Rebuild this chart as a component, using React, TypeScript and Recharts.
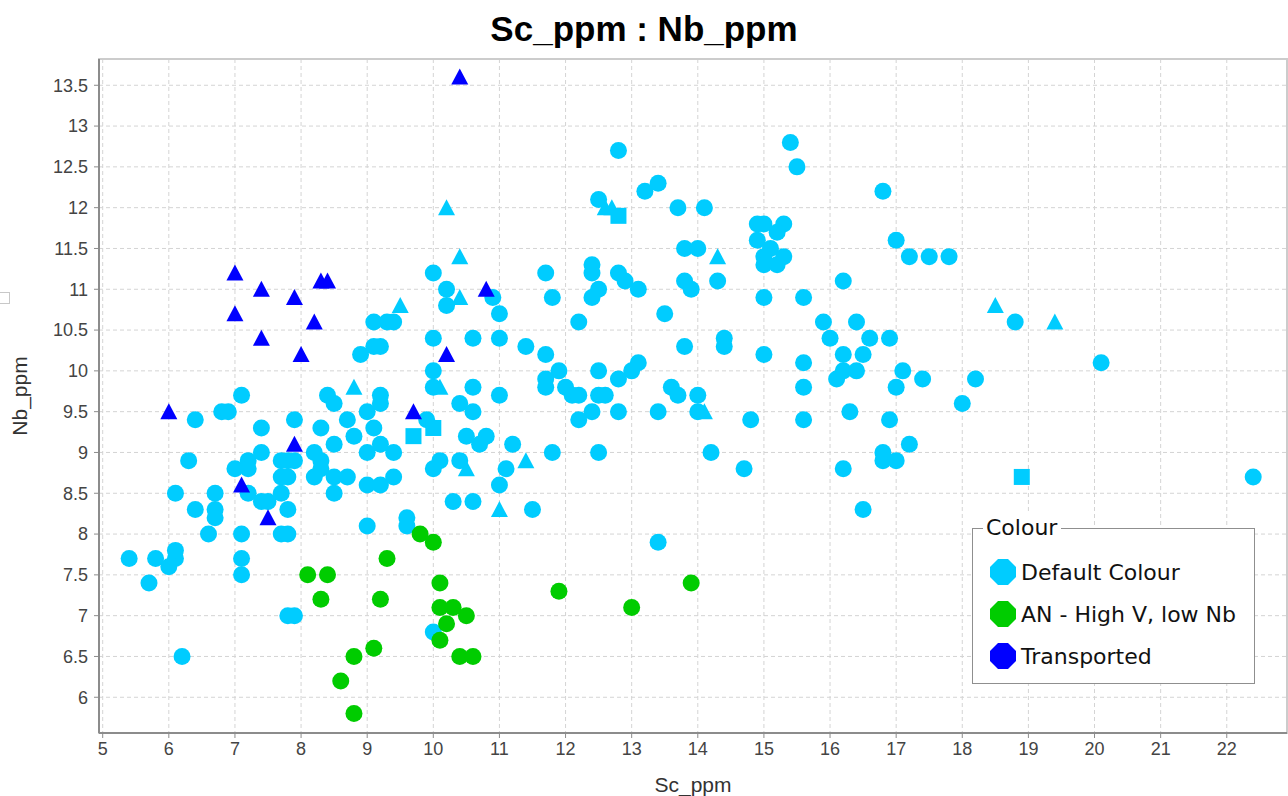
import React from 'react'
import { ScatterChart, Scatter, XAxis, YAxis, CartesianGrid, ReferenceArea } from 'recharts'

// Sc_ppm / Nb_ppm pairs, grouped by colour class and marker shape
const defaultCircles: [number, number][] = [
  [5.4, 7.7], [5.7, 7.4], [5.8, 7.7], [6.0, 7.6], [6.1, 7.7], [6.1, 7.8], [6.2, 6.5], [6.1, 8.5],
  [6.3, 8.9], [6.4, 8.3], [6.4, 9.4], [6.6, 8.0], [6.7, 8.5], [6.7, 8.3], [6.7, 8.2], [6.8, 9.5],
  [6.9, 9.5], [7.0, 8.8], [7.1, 9.7], [7.1, 8.0], [7.1, 7.7], [7.1, 7.5], [7.2, 8.9], [7.2, 8.8],
  [7.2, 8.5], [7.4, 9.3], [7.4, 9.0], [7.4, 8.4], [7.5, 8.4], [7.7, 8.9], [7.8, 8.9], [7.9, 8.9],
  [7.9, 9.4], [7.7, 8.7], [7.8, 8.7], [7.7, 8.5], [7.8, 8.3], [7.7, 8.0], [7.8, 8.0], [7.8, 7.0],
  [7.9, 7.0], [8.2, 9.0], [8.3, 8.9], [8.3, 8.8], [8.2, 8.7], [8.3, 9.3], [8.4, 9.7], [8.5, 9.6],
  [8.5, 9.1], [8.5, 8.7], [8.7, 8.7], [8.5, 8.5], [8.7, 9.4], [8.8, 9.2], [8.9, 10.2], [9.0, 9.5],
  [9.0, 9.0], [9.0, 8.6], [9.0, 8.1], [9.1, 9.3], [9.1, 10.6], [9.3, 10.6], [9.4, 10.6], [9.1, 10.3],
  [9.2, 10.3], [9.2, 9.7], [9.2, 9.6], [9.2, 9.1], [9.2, 8.6], [9.4, 9.0], [9.4, 8.7], [9.6, 8.2],
  [9.6, 8.1], [9.9, 9.4],
  [10.0, 11.2], [10.2, 11.0], [10.2, 10.8], [10.9, 10.9], [11.0, 10.7], [10.0, 10.4], [10.6, 10.4],
  [11.0, 10.4], [11.4, 10.3], [11.7, 10.2], [10.0, 10.0], [10.0, 9.8], [10.6, 9.8], [11.0, 9.7],
  [10.4, 9.6], [10.6, 9.5], [10.5, 9.2], [10.8, 9.2], [10.7, 9.1], [11.2, 9.1], [10.0, 8.8],
  [10.1, 8.9], [10.4, 8.9], [11.1, 8.8], [11.0, 8.6], [11.8, 9.0], [12.5, 9.0], [10.3, 8.4],
  [10.6, 8.4], [11.5, 8.3], [10.0, 6.8], [13.4, 7.9],
  [12.8, 12.7], [13.2, 12.2], [13.4, 12.3], [12.5, 12.1], [13.7, 12.0], [11.7, 11.2], [11.8, 10.9],
  [12.2, 10.6], [12.4, 11.3], [12.4, 11.2], [12.5, 11.0], [12.4, 10.9], [12.8, 11.2], [12.9, 11.1],
  [13.1, 11.0], [13.5, 10.7], [13.1, 10.1], [11.9, 10.0], [11.7, 9.9], [11.7, 9.8], [12.0, 9.8],
  [12.1, 9.7], [12.2, 9.7], [12.5, 10.0], [12.8, 9.9], [13.0, 10.0], [12.5, 9.7], [12.6, 9.7],
  [12.4, 9.5], [12.2, 9.4], [12.8, 9.5], [13.4, 9.5], [13.6, 9.8], [13.7, 9.7],
  [15.4, 12.8], [15.5, 12.5], [16.8, 12.2], [14.1, 12.0], [14.9, 11.8], [15.0, 11.8], [15.3, 11.8],
  [15.2, 11.7], [14.9, 11.6], [15.1, 11.5], [15.0, 11.4], [15.3, 11.4], [15.0, 11.3], [15.2, 11.3],
  [13.8, 11.5], [14.0, 11.5], [13.8, 11.1], [13.9, 11.0], [14.3, 11.1], [17.0, 11.6], [17.2, 11.4],
  [17.5, 11.4], [17.8, 11.4], [16.2, 11.1], [15.0, 10.9], [15.6, 10.9], [13.8, 10.3], [14.4, 10.4],
  [14.4, 10.3], [15.0, 10.2], [15.6, 10.1], [15.6, 9.8], [15.9, 10.6], [16.0, 10.4], [16.4, 10.6],
  [16.6, 10.4], [16.9, 10.4], [16.2, 10.2], [16.5, 10.2], [16.1, 9.9], [16.2, 10.0], [16.4, 10.0],
  [17.1, 10.0], [17.4, 9.9], [17.0, 9.8], [14.0, 9.7], [14.0, 9.5], [14.8, 9.4], [15.6, 9.4],
  [16.3, 9.5], [16.9, 9.4], [14.2, 9.0], [14.7, 8.8], [16.2, 8.8], [16.8, 9.0], [16.8, 8.9],
  [17.0, 8.9], [17.2, 9.1], [16.5, 8.3], [18.8, 10.6], [20.1, 10.1], [18.2, 9.9], [18.0, 9.6],
  [22.4, 8.7],
]

const defaultTriangles: [number, number][] = [
  [8.8, 9.8], [9.5, 10.8], [10.2, 12.0], [10.4, 11.4], [10.4, 10.9], [10.1, 9.8], [10.5, 8.8],
  [11.0, 8.3], [11.4, 8.9], [12.6, 12.0], [12.7, 12.0], [14.3, 11.4], [14.1, 9.5], [18.5, 10.8],
  [19.4, 10.6],
]

const defaultSquares: [number, number][] = [
  [9.7, 9.2], [10.0, 9.3], [12.8, 11.9], [18.9, 8.7],
]

const highVCircles: [number, number][] = [
  [8.1, 7.5], [8.4, 7.5], [8.3, 7.2], [9.3, 7.7], [9.2, 7.2], [9.1, 6.6], [8.8, 6.5], [8.6, 6.2],
  [8.8, 5.8], [9.8, 8.0], [10.0, 7.9], [10.1, 7.4], [11.9, 7.3], [13.0, 7.1], [10.1, 7.1],
  [10.3, 7.1], [10.5, 7.0], [10.2, 6.9], [10.1, 6.7], [10.4, 6.5], [10.6, 6.5], [13.9, 7.4],
]

const transportedTriangles: [number, number][] = [
  [7.0, 11.2], [7.4, 11.0], [7.9, 10.9], [8.3, 11.1], [8.4, 11.1], [7.0, 10.7], [8.2, 10.6],
  [7.4, 10.4], [8.0, 10.2], [6.0, 9.5], [7.9, 9.1], [7.1, 8.6], [7.5, 8.2], [10.4, 13.6],
  [10.8, 11.0], [10.2, 10.2], [9.7, 9.5],
]

const colourNames = ['Default Colour', 'AN - High V, low Nb', 'Transported']
const colours = ['#00ccff', '#00cc00', '#0000ff']

const xTicks = [5, 6, 7, 8, 9, 10, 11, 12, 13, 14, 15, 16, 17, 18, 19, 20, 21, 22]
const yTicks = [6, 6.5, 7, 7.5, 8, 8.5, 9, 9.5, 10, 10.5, 11, 11.5, 12, 12.5, 13, 13.5]

const X_MIN = 4.944
const X_MAX = 22.911
const Y_MIN = 5.562
const Y_MAX = 13.822

const toPoints = (rows: [number, number][]) => rows.map(([x, y]) => ({ x, y }))

const marker = (kind: 'circle' | 'triangle' | 'square') => (props: any) => {
  const { cx, cy, fill } = props
  if (cx == null || cy == null) return <g />
  if (kind === 'triangle') {
    return <polygon points={`${cx},${cy - 8.5} ${cx - 8.5},${cy + 7.5} ${cx + 8.5},${cy + 7.5}`} fill={fill} />
  }
  if (kind === 'square') {
    return <rect x={cx - 8} y={cy - 8} width={16} height={16} fill={fill} />
  }
  return <circle cx={cx} cy={cy} r={8.5} fill={fill} />
}

function Octagon({ color }: { color: string }) {
  const pts = [[8, 0], [18, 0], [26, 8], [26, 18], [18, 26], [8, 26], [0, 18], [0, 8]]
  return (
    <svg width={26} height={26} style={{ display: 'block' }}>
      <polygon points={pts.map(p => p.join(',')).join(' ')} fill={color} />
    </svg>
  )
}

export default function App() {
  const axisColor = '#8c8c8c'
  const tickStyle = { fill: '#444', fontSize: 18, fontFamily: '"Liberation Sans", Arial, sans-serif' }

  return (
    <div style={{ position: 'absolute', left: 0, top: 0, width: 1288, height: 796, background: '#fff', overflow: 'hidden' }}>
      <div
        style={{
          position: 'absolute', left: 0, top: 9, width: 1288, textAlign: 'center',
          fontFamily: '"Liberation Sans", Arial, sans-serif', fontWeight: 'bold', fontSize: 35, color: '#000'
        }}
      >
        Sc_ppm : Nb_ppm
      </div>

      <div style={{ position: 'absolute', left: -2, top: 292, width: 10, height: 10, border: '1px solid #c8c8c8' }} />

      <ScatterChart width={1288} height={796} margin={{ top: 59, right: 1, bottom: 0, left: 0 }}>
        <CartesianGrid stroke="#d4d4d4" strokeDasharray="4 3" />
        <ReferenceArea x1={X_MIN} x2={X_MAX} y1={Y_MIN} y2={Y_MAX} fill="none" stroke="#cccccc" strokeWidth={2} />
        <XAxis
          type="number"
          dataKey="x"
          domain={[X_MIN, X_MAX]}
          ticks={xTicks}
          allowDataOverflow
          height={63}
          tickSize={5}
          tickMargin={4}
          tick={tickStyle}
          axisLine={{ stroke: axisColor, strokeWidth: 2 }}
          tickLine={{ stroke: axisColor }}
          label={{ value: 'Sc_ppm', position: 'insideBottom', offset: 4, fill: '#333', fontSize: 21, fontFamily: '"Liberation Sans", Arial, sans-serif' }}
        />
        <YAxis
          type="number"
          dataKey="y"
          domain={[Y_MIN, Y_MAX]}
          ticks={yTicks}
          allowDataOverflow
          width={99}
          tickSize={5}
          tickMargin={6}
          tick={tickStyle}
          axisLine={{ stroke: axisColor, strokeWidth: 2 }}
          tickLine={{ stroke: axisColor }}
          label={{ value: 'Nb_ppm', angle: -90, position: 'insideLeft', offset: 20, fill: '#333', fontSize: 21, fontFamily: '"Liberation Sans", Arial, sans-serif', style: { textAnchor: 'middle' } }}
        />
        <Scatter data={toPoints(defaultCircles)} fill={colours[0]} shape={marker('circle')} isAnimationActive={false} />
        <Scatter data={toPoints(defaultTriangles)} fill={colours[0]} shape={marker('triangle')} isAnimationActive={false} />
        <Scatter data={toPoints(defaultSquares)} fill={colours[0]} shape={marker('square')} isAnimationActive={false} />
        <Scatter data={toPoints(highVCircles)} fill={colours[1]} shape={marker('circle')} isAnimationActive={false} />
        <Scatter data={toPoints(transportedTriangles)} fill={colours[2]} shape={marker('triangle')} isAnimationActive={false} />
      </ScatterChart>

      <div
        style={{
          position: 'absolute', left: 972, top: 528, width: 281, height: 154,
          border: '1.5px solid #8f8f8f', background: '#fff',
          fontFamily: '"DejaVu Sans", Tahoma, sans-serif', fontSize: 22, color: '#111'
        }}
      >
        <div style={{ position: 'absolute', left: 10, top: -15, background: '#fff', padding: '0 4px 0 3px', lineHeight: '28px' }}>
          Colour
        </div>
        {colourNames.map((name, i) => (
          <div key={name} style={{ position: 'absolute', left: 17, top: 30 + i * 42, display: 'flex', alignItems: 'center', gap: 5, whiteSpace: 'nowrap' }}>
            <Octagon color={colours[i]} />
            <span>{name}</span>
          </div>
        ))}
      </div>
    </div>
  )
}
